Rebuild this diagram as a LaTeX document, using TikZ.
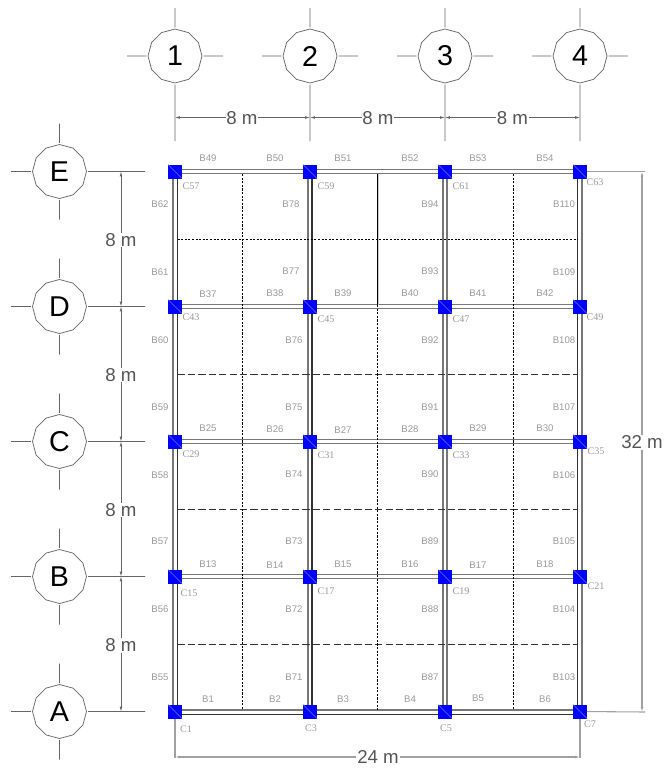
\documentclass[tikz,border=0pt]{standalone}
\usepackage{fontspec}
\setmainfont{Liberation Sans}
\newfontfamily\serifc{Liberation Serif}
\usetikzlibrary{shapes.geometric,arrows.meta,backgrounds}
\definecolor{tick}{HTML}{666666}
\definecolor{dimtxt}{HTML}{555555}
\definecolor{lbl}{HTML}{9A9A9A}
\definecolor{bmgray}{HTML}{777777}
\definecolor{bmdark}{HTML}{333333}
\definecolor{extgray}{HTML}{A0A0A0}
\tikzset{
  x=0.75pt,y=-0.75pt,
  bubble/.style={regular polygon,regular polygon sides=12,shape border rotate=15,draw=tick,line width=0.55pt,
    minimum size=40.5pt,inner sep=0pt,outer sep=0pt,font=\fontsize{21.5pt}{24pt}\selectfont,text=black},
  ticks/.style={draw=tick,line width=0.6pt,shorten <=1.2pt},
  dimline/.style={draw=tick,line width=0.5pt,{Latex[length=3.6pt,width=2pt]}-{Latex[length=3.6pt,width=2pt]}},
  dimextra/.style={draw=extgray,line width=0.8pt},
  dimtext/.style={fill=white,inner sep=0.6pt,text=dimtxt,font=\fontsize{14pt}{16pt}\selectfont},
  blabel/.style={inner sep=0pt,text=lbl,font=\fontsize{7.2pt}{8pt}\selectfont},
  clabel/.style={inner sep=0pt,text=lbl,font=\serifc\fontsize{7.6pt}{8pt}\selectfont},
  colsq/.style={rectangle,fill=blue,minimum size=10.5pt,inner sep=0pt,outer sep=0pt},
  beamgray/.style={draw=bmgray,line width=1.2pt},
  beamdark/.style={draw=bmdark,line width=0.8pt},
  secfine/.style={draw=black,line width=0.6pt,dash pattern=on 1.6pt off 1.1pt},
  seclong/.style={draw=bmdark,line width=0.7pt,dash pattern=on 5.4pt off 2.4pt},
  secsolid/.style={draw=black,line width=0.7pt},
}
\begin{document}
\begin{tikzpicture}
\useasboundingbox (0,0) rectangle (665,768);

% grid bubbles, top
\foreach \n/\x in {1/175,2/310,3/445,4/580}{
  \node[bubble] (top\n) at (\x,56) {\n};
  \coordinate (top\n N) at (\x,8);
  \coordinate (top\n S) at (\x,141);
  \coordinate (top\n W) at (\x-48,56);
  \coordinate (top\n E) at (\x+48,56);
  \draw[ticks] (top\n.north) -- (top\n N);
  \draw[ticks] (top\n.south) -- (top\n S);
  \draw[ticks] (top\n.west) -- (top\n W);
  \draw[ticks] (top\n.east) -- (top\n E);
}
% grid bubbles, left
\foreach \n/\y in {E/171.5,D/306.5,C/441.5,B/576.5,A/711.5}{
  \node[bubble] (side\n) at (59.5,\y) {\n};
  \coordinate (side\n N) at (59.5,\y-48);
  \coordinate (side\n S) at (59.5,\y+48);
  \coordinate (side\n W) at (11,\y);
  \coordinate (side\n E) at (145,\y);
  \draw[ticks] (side\n.north) -- (side\n N);
  \draw[ticks] (side\n.south) -- (side\n S);
  \draw[ticks] (side\n.west) -- (side\n W);
  \draw[ticks] (side\n.east) -- (side\n E);
}

% columns
\foreach \c/\x in {1/175,2/310,3/445,4/580}{
  \foreach \r/\y in {E/171.5,D/306.5,C/441.5,B/576.5,A/711.5}{
    \node[colsq] (n\c\r) at (\x,\y) {};
    \draw[draw=white!45!blue,line width=0.3pt] (n\c\r.north west) -- (n\c\r.south east);
  }
}

\begin{scope}[on background layer]
% horizontal beams
\foreach \r in {E,D,C,B}{
  \foreach \a/\b in {1/2,2/3,3/4}{
    \draw[beamgray] ([yshift=1.5pt]n\a\r.center) -- ([yshift=1.5pt]n\b\r.center);
    \draw[beamgray] ([yshift=-1.6pt]n\a\r.center) -- ([yshift=-1.6pt]n\b\r.center);
  }
}
\foreach \a/\b in {1/2,2/3,3/4}{
  \draw[beamgray] ([yshift=1.0pt]n\a A.center) -- ([yshift=1.0pt]n\b A.center);
  \draw[beamdark] ([yshift=-1.9pt]n\a A.center) -- ([yshift=-1.9pt]n\b A.center);
}
% vertical beams
\foreach \a/\b in {E/D,D/C,C/B,B/A}{
  \draw[beamgray] ([xshift=-1.3pt]n1\a.center) -- ([xshift=-1.3pt]n1\b.center);
  \draw[beamdark] ([xshift=1.7pt]n1\a.center) -- ([xshift=1.7pt]n1\b.center);
  \draw[beamgray] ([xshift=-1.7pt]n2\a.center) -- ([xshift=-1.7pt]n2\b.center);
  \draw[beamdark] ([xshift=1.5pt]n2\a.center) -- ([xshift=1.5pt]n2\b.center);
  \draw[beamgray] ([xshift=-1.7pt]n3\a.center) -- ([xshift=-1.7pt]n3\b.center);
  \draw[beamgray] ([xshift=1.5pt]n3\a.center) -- ([xshift=1.5pt]n3\b.center);
  \draw[beamdark] ([xshift=-2pt]n4\a.center) -- ([xshift=-2pt]n4\b.center);
  \draw[beamgray] ([xshift=1.3pt]n4\a.center) -- ([xshift=1.3pt]n4\b.center);
}
% secondary beams
\foreach \k/\y in {a/239}{
  \coordinate (hs\k) at (177.5,\y); \coordinate (he\k) at (577.5,\y);
  \draw[secfine] (hs\k) -- (he\k);
}
\foreach \k/\y in {b/374,c/509.5,d/644.5}{
  \coordinate (hs\k) at (177.5,\y); \coordinate (he\k) at (577.5,\y);
  \draw[seclong] (hs\k) -- (he\k);
}
\foreach \k/\x in {a/242.5,c/513}{
  \coordinate (vs\k) at (\x,174); \coordinate (ve\k) at (\x,710);
  \draw[secfine] (vs\k) -- (ve\k);
}
\coordinate (vsb) at (377.7,174); \coordinate (vmb) at (377.7,305); \coordinate (veb) at (377.7,710);
\draw[draw=black!20,line width=0.8pt] ([xshift=0.8pt]vsb) -- ([xshift=0.8pt]vmb);
\draw[secsolid] (vsb) -- (vmb);
\draw[secfine] (vmb) -- (veb);
% extension lines
\coordinate (extR1) at (645,171.5);
\coordinate (extR2) at (645,712);
\coordinate (extB1) at (175,758);
\coordinate (extB2) at (580,758);
\draw[dimextra] (n4E.center) -- (extR1);
\draw[dimextra] (n4A.center) -- (extR2);
\draw[dimextra] (n1A.center) -- (extB1);
\draw[dimextra] (n4A.center) -- (extB2);
\end{scope}

% horizontal dimensions
\foreach \a/\b/\x in {1/2/242,2/3/378,3/4/512.5}{
  \coordinate (dh\a) at (175+135*\a-135,117.5);
  \coordinate (dh\b) at (175+135*\b-135,117.5);
  \draw[dimline] (dh\a) -- (dh\b);
  \node[dimtext] (dhl\a) at (\x,118.5) {8 m};
}
% vertical dimensions
\foreach \a/\b/\ya/\yb/\ty in {E/D/171.5/306.5/240,D/C/306.5/441.5/375,C/B/441.5/576.5/510,B/A/576.5/711.5/645.5}{
  \coordinate (dva\a) at (121,\ya);
  \coordinate (dvb\a) at (121,\yb);
  \draw[dimline] (dva\a) -- (dvb\a);
  \node[dimtext] (dvl\a) at (121,\ty) {8 m};
}
% overall dimensions
\coordinate (ov1) at (642,171.5); \coordinate (ov2) at (642,712);
\draw[dimline,draw=extgray,line width=0.8pt] (ov1) -- (ov2);
\node[dimtext] (ovl) at (642,442.5) {32 m};
\coordinate (oh1) at (175,757); \coordinate (oh2) at (580,757);
\draw[dimline,draw=extgray,line width=0.8pt] (oh1) -- (oh2);
\node[dimtext] (ohl) at (378,757) {24 m};

% beam labels
\foreach \n/\x/\y in {
 B49/208/158,B50/275/158,B51/343/158,B52/410/158,B53/478/158,B54/545/158,
 B37/208/294,B38/275/293,B39/343/293,B40/410/293,B41/478/293,B42/545/293,
 B25/208/428,B26/275/429,B27/343/430,B28/410/429,B29/478/428,B30/545/428,
 B13/208/564,B14/275/565,B15/343/564,B16/410/564,B17/478/565,B18/545/564,
 B1/208/699,B2/275/699,B3/343/699.5,B4/410/699.5,B5/478/698.5,B6/545/699,
 B62/160/204,B61/160/272,B60/160/340,B59/160/407,B58/160/475,B57/160/541,B56/160/609,B55/160/677,
 B78/291/204,B77/291/271,B76/294/340,B75/294/407,B74/294/474,B73/294/541,B72/294/609,B71/294/677,
 B94/430/204,B93/430/271,B92/430/340,B91/430/407,B90/430/474,B89/430/541,B88/430/609,B87/430/677,
 B110/564/204,B109/564/272,B108/564/340,B107/564/407,B106/564/475,B105/564/541,B104/564/609,B103/564/677}{
  \node[blabel] (l\n) at (\x,\y) {\n};
}
% column labels
\foreach \n/\x/\y in {
 C57/191/186,C59/326/186,C61/461/186,C63/595/182,
 C43/191/317,C45/326/319,C47/461/319,C49/595/317,
 C29/191/454,C31/326/455,C33/461/455,C35/596/451,
 C15/189/593,C17/326/591,C19/461/591,C21/596/586,
 C1/186/729,C3/311/728,C5/446/728,C7/590/724}{
  \node[clabel] (l\n) at (\x,\y) {\n};
}
\end{tikzpicture}
\end{document}
